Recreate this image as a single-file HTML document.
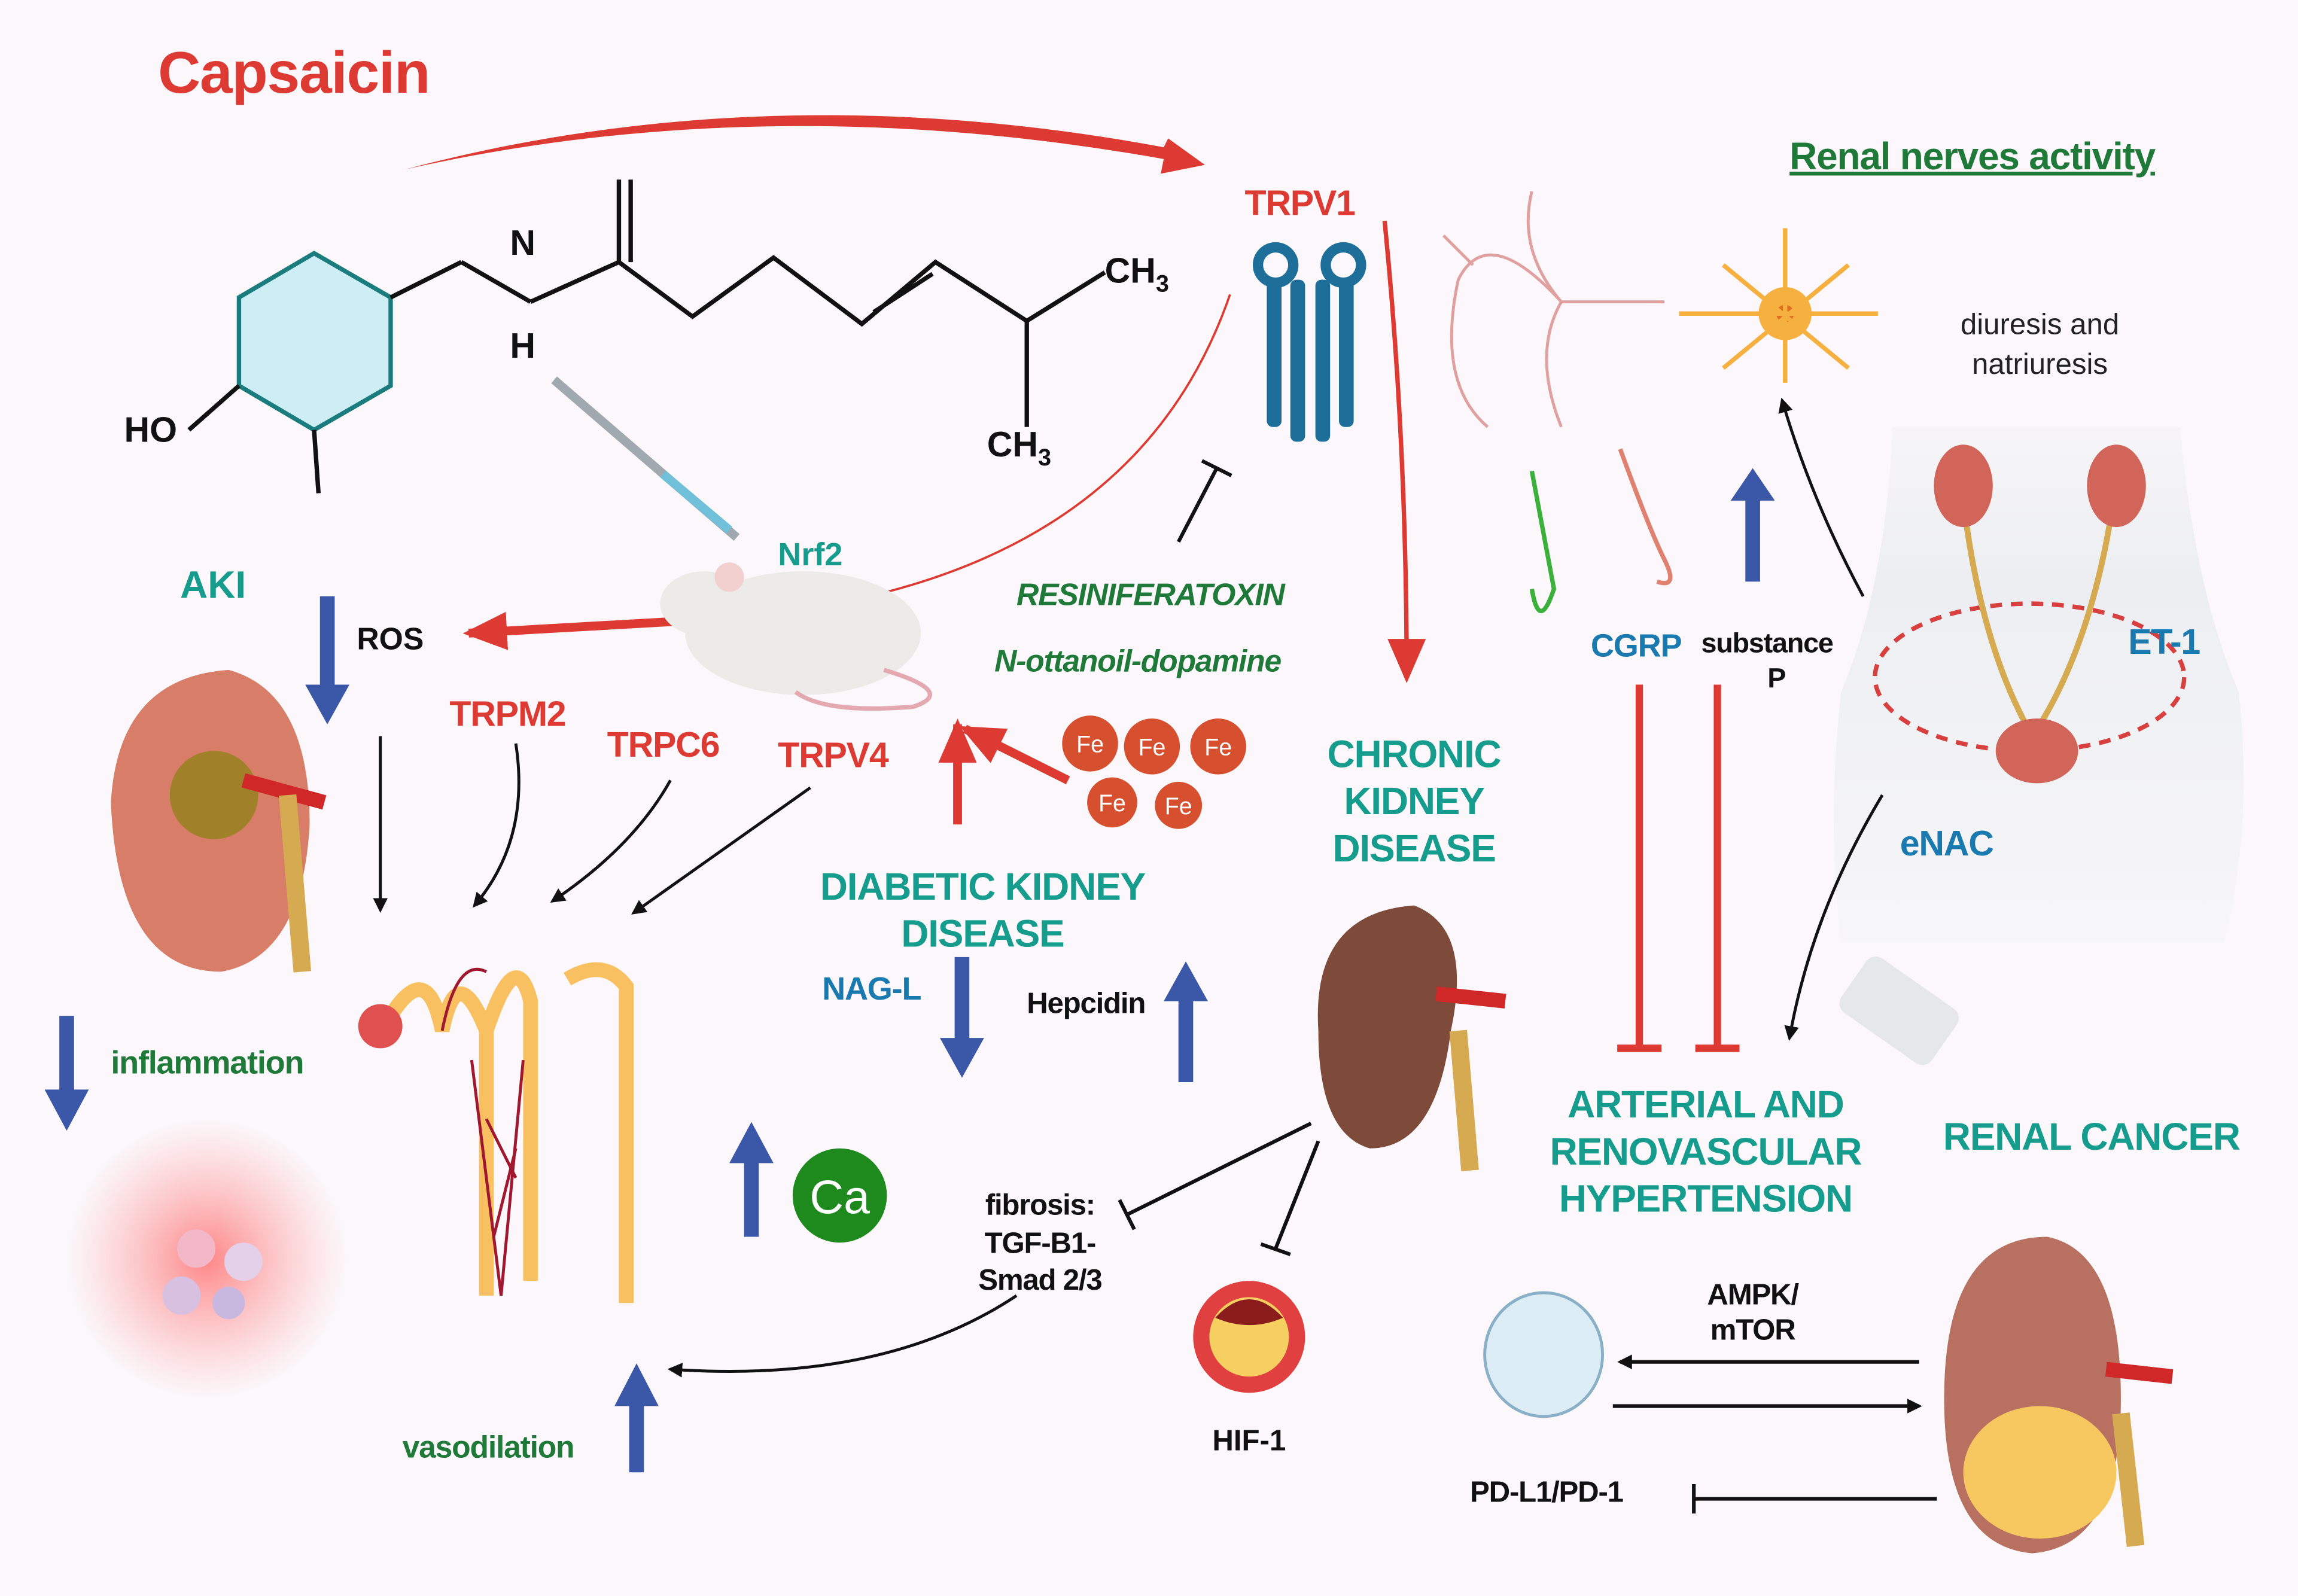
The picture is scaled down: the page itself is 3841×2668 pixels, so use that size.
<!DOCTYPE html>
<html><head><meta charset="utf-8"><style>
html,body{margin:0;padding:0;background:#fbf7fa}
svg{display:block}
text{font-family:"Liberation Sans",sans-serif;font-weight:bold}
.n{letter-spacing:-0.5px}
</style></head><body>
<svg width="3841" height="2668" viewBox="0 0 1560 1084" xmlns="http://www.w3.org/2000/svg">
<defs>
<marker id="ab" markerWidth="10" markerHeight="10" refX="8" refY="5" orient="auto" markerUnits="userSpaceOnUse"><path d="M0,0 L10,5 L0,10 z" fill="#111"/></marker>
<marker id="ar" markerWidth="30" markerHeight="26" refX="26" refY="13" orient="auto" markerUnits="userSpaceOnUse"><path d="M0,0 L30,13 L0,26 z" fill="#dc3a32"/></marker>
<radialGradient id="glow"><stop offset="0" stop-color="#ff6a6a" stop-opacity=".8"/><stop offset="1" stop-color="#ff9a9a" stop-opacity="0"/></radialGradient>
<linearGradient id="bg" x1="0" y1="0" x2="0" y2="1"><stop offset="0" stop-color="#f1f2f4" stop-opacity=".5"/><stop offset=".3" stop-color="#eceef1"/><stop offset="1" stop-color="#f3f4f6" stop-opacity=".6"/></linearGradient>
</defs>
<rect width="1560" height="1084" fill="#fbf7fa"/>
<path d="M1285,290 L1480,290 Q1490,400 1520,470 Q1530,560 1510,640 L1250,640 Q1240,560 1250,470 Q1280,400 1285,290z" fill="url(#bg)"/>

<text x="107" y="63" font-size="40" fill="#dc3a32" class="n">Capsaicin</text>
<path d="M275,115 Q520,50 790,100 L793,94 L818,112 L788,118 L790,108 Q520,60 275,115z" fill="#dc3a32"/>
<text x="845" y="146" font-size="24" fill="#dc3a32" class="n">TRPV1</text>
<text x="1215" y="115" font-size="26" fill="#1f7a3a" text-decoration="underline" class="n">Renal nerves activity</text>
<text font-size="20" fill="#222" text-anchor="middle" style="font-weight:normal"><tspan x="1385" y="227">diuresis and</tspan><tspan x="1385" y="254">natriuresis</tspan></text>

<g stroke="#111" stroke-width="3" fill="none">
<polygon points="213,172 265,202 265,262 213,292 162,262 162,202" fill="#cdeef4" stroke="#1a7c7c"/>
<line x1="265" y1="202" x2="313" y2="178"/><line x1="313" y1="178" x2="360" y2="205"/>
<line x1="360" y1="205" x2="420" y2="178"/><line x1="420" y1="178" x2="420" y2="122"/><line x1="428" y1="178" x2="428" y2="122"/>
<polyline points="420,178 470,215 525,175 585,220 635,178 697,218 750,185"/>
<line x1="593" y1="212" x2="633" y2="186"/>
<line x1="697" y1="218" x2="697" y2="290"/>
<line x1="162" y1="262" x2="128" y2="292"/><line x1="213" y1="292" x2="216" y2="335"/>
</g>
<text x="346" y="173" font-size="24" fill="#111">N</text>
<text x="346" y="243" font-size="24" fill="#111">H</text>
<text x="750" y="192" font-size="24" fill="#111">CH<tspan font-size="16" dy="6">3</tspan></text>
<text x="670" y="310" font-size="24" fill="#111">CH<tspan font-size="16" dy="6">3</tspan></text>
<text x="84" y="300" font-size="24" fill="#111">HO</text>

<line x1="376" y1="258" x2="500" y2="365" stroke="#a0a8b0" stroke-width="6"/>
<line x1="450" y1="322" x2="495" y2="360" stroke="#6fc0d8" stroke-width="6"/>

<g fill="#1d6f9a"><rect x="860" y="190" width="10" height="100" rx="4"/><rect x="876" y="190" width="10" height="110" rx="4"/><rect x="893" y="190" width="10" height="110" rx="4"/><rect x="909" y="190" width="10" height="100" rx="4"/>
<circle cx="866" cy="180" r="12" fill="none" stroke="#1d6f9a" stroke-width="7"/><circle cx="912" cy="180" r="12" fill="none" stroke="#1d6f9a" stroke-width="7"/></g>
<path d="M835,200 Q780,360 590,405" fill="none" stroke="#dc3a32" stroke-width="1.5"/>
<line x1="800" y1="368" x2="826" y2="318" stroke="#111" stroke-width="2.5"/><line x1="816" y1="313" x2="836" y2="323" stroke="#111" stroke-width="2.5"/>
<path d="M940,150 Q955,300 955,460" fill="none" stroke="#dc3a32" stroke-width="3" marker-end="url(#ar)"/>

<g stroke="#e0a0a0" stroke-width="2" fill="none">
<path d="M1130,205 L1060,205 Q1010,150 990,190 Q975,260 1010,290 M1060,205 Q1040,240 1060,290 M1060,205 Q1030,170 1040,130 M1000,180 L980,160"/></g>
<circle cx="1212" cy="213" r="18" fill="#f5b040"/><circle cx="1212" cy="213" r="6" fill="#e07020"/>
<g stroke="#f5b040" stroke-width="3"><line x1="1140" y1="213" x2="1275" y2="213"/><line x1="1212" y1="155" x2="1212" y2="260"/><line x1="1170" y1="180" x2="1255" y2="250"/><line x1="1255" y1="180" x2="1170" y2="250"/></g>
<path d="M1040,320 L1055,400 Q1045,430 1040,400" stroke="#3bb03b" stroke-width="3" fill="none"/>
<path d="M1100,305 Q1120,360 1130,380 Q1140,400 1125,395" stroke="#e08070" stroke-width="3" fill="none"/>
<path d="M1190,395 L1190,335" stroke="#3b57a8" stroke-width="10"/><polygon points="1175,340 1190,318 1205,340" fill="#3b57a8"/>
<path d="M1265,405 Q1230,340 1210,272" fill="none" stroke="#111" stroke-width="2" marker-end="url(#ab)"/>

<ellipse cx="1378" cy="460" rx="105" ry="50" fill="none" stroke="#d84040" stroke-width="3" stroke-dasharray="8,6"/>
<path d="M1333,340 Q1345,440 1380,500 M1435,340 Q1420,440 1380,500" stroke="#d6aa50" stroke-width="4" fill="none"/>
<ellipse cx="1333" cy="330" rx="20" ry="28" fill="#d2655a"/><ellipse cx="1437" cy="330" rx="20" ry="28" fill="#d2655a"/>
<ellipse cx="1383" cy="510" rx="28" ry="22" fill="#d2655a"/>
<text x="1445" y="444" font-size="24" fill="#1a7ab0" class="n">ET-1</text>
<text x="1290" y="581" font-size="24" fill="#1a7ab0" class="n">eNAC</text>
<path d="M1278,540 Q1230,620 1215,705" fill="none" stroke="#111" stroke-width="2" marker-end="url(#ab)"/>

<text x="1080" y="446" font-size="22" fill="#1a7ab0" class="n">CGRP</text>
<text x="1155" y="443" font-size="19" fill="#111" class="n">substance</text>
<text x="1200" y="467" font-size="19" fill="#111">P</text>
<g stroke="#dc3a32" stroke-width="5"><line x1="1113" y1="465" x2="1113" y2="712"/><line x1="1166" y1="465" x2="1166" y2="712"/><line x1="1098" y1="712" x2="1128" y2="712"/><line x1="1151" y1="712" x2="1181" y2="712"/></g>
<text font-size="26" fill="#159c8c" text-anchor="middle" class="n"><tspan x="1158" y="759">ARTERIAL AND</tspan><tspan x="1158" y="791">RENOVASCULAR</tspan><tspan x="1158" y="823">HYPERTENSION</tspan></text>
<text x="1420" y="781" font-size="26" fill="#159c8c" text-anchor="middle" class="n">RENAL CANCER</text>
<rect x="1250" y="665" width="75" height="45" rx="8" fill="#e5e7ea" transform="rotate(35 1290 690)"/>

<text x="122" y="406" font-size="26" fill="#159c8c">AKI</text>
<path d="M222,405 L222,470" stroke="#3b57a8" stroke-width="10"/><polygon points="207,465 222,492 237,465" fill="#3b57a8"/>
<text x="242" y="441" font-size="21" fill="#111">ROS</text>
<path d="M460,422 L318,430" stroke="#dc3a32" stroke-width="6" marker-end="url(#ar)"/>
<path d="M75,545 Q80,460 155,455 Q210,470 210,560 Q205,650 150,660 Q80,660 75,545z" fill="#d77d68"/>
<circle cx="145" cy="540" r="30" fill="#a08028"/>
<path d="M165,530 L220,545" stroke="#d02828" stroke-width="10"/><path d="M195,540 L205,660" stroke="#d6aa50" stroke-width="12"/>
<text x="305" y="493" font-size="24" fill="#dc3a32" class="n">TRPM2</text>
<text x="412" y="514" font-size="24" fill="#dc3a32" class="n">TRPC6</text>
<text x="528" y="521" font-size="24" fill="#dc3a32" class="n">TRPV4</text>
<g stroke="#111" stroke-width="2" fill="none">
<line x1="258" y1="500" x2="258" y2="618" marker-end="url(#ab)"/>
<path d="M350,505 Q360,570 322,615" marker-end="url(#ab)"/>
<path d="M455,530 Q430,575 375,612" marker-end="url(#ab)"/>
<path d="M550,535 L430,620" marker-end="url(#ab)"/>
</g>

<ellipse cx="545" cy="430" rx="80" ry="42" fill="#ecebe8"/><ellipse cx="478" cy="410" rx="30" ry="22" fill="#ecebe8"/>
<circle cx="495" cy="392" r="10" fill="#f2d0d0"/>
<path d="M600,455 Q650,470 620,480 Q560,485 540,470" fill="none" stroke="#e4a9b0" stroke-width="3"/>
<text x="528" y="384" font-size="22" fill="#159c8c">Nrf2</text>
<text x="690" y="411" font-size="21" fill="#1f7a3a" font-style="italic" class="n">RESINIFERATOXIN</text>
<text x="675" y="456" font-size="21" fill="#1f7a3a" font-style="italic" class="n">N-ottanoil-dopamine</text>

<g font-size="16" fill="#fff" text-anchor="middle">
<circle cx="740" cy="505" r="19" fill="#d65030"/><circle cx="782" cy="507" r="19" fill="#d65030"/><circle cx="827" cy="507" r="19" fill="#d65030"/><circle cx="755" cy="545" r="17" fill="#d65030"/><circle cx="800" cy="547" r="16" fill="#d65030"/>
<text x="740" y="511" style="font-weight:normal">Fe</text><text x="782" y="513" style="font-weight:normal">Fe</text><text x="827" y="513" style="font-weight:normal">Fe</text><text x="755" y="551" style="font-weight:normal">Fe</text><text x="800" y="553" style="font-weight:normal">Fe</text></g>
<path d="M725,530 L655,495" stroke="#dc3a32" stroke-width="6" marker-end="url(#ar)"/>
<path d="M650,560 L650,492" stroke="#dc3a32" stroke-width="6" marker-end="url(#ar)"/>

<text font-size="26" fill="#159c8c" text-anchor="middle" class="n"><tspan x="960" y="521">CHRONIC</tspan><tspan x="960" y="553">KIDNEY</tspan><tspan x="960" y="585">DISEASE</tspan></text>
<text font-size="26" fill="#159c8c" text-anchor="middle" class="n"><tspan x="667" y="611">DIABETIC KIDNEY</tspan><tspan x="667" y="643">DISEASE</tspan></text>
<text x="558" y="679" font-size="22" fill="#1a7ab0" class="n">NAG-L</text>
<path d="M653,650 L653,710" stroke="#3b57a8" stroke-width="10"/><polygon points="638,705 653,732 668,705" fill="#3b57a8"/>
<text x="697" y="688" font-size="20" fill="#111" class="n">Hepcidin</text>
<path d="M805,735 L805,675" stroke="#3b57a8" stroke-width="10"/><polygon points="790,680 805,653 820,680" fill="#3b57a8"/>

<path d="M895,700 Q890,620 960,615 Q1000,630 985,700 Q975,780 930,780 Q895,770 895,700z" fill="#7e4a3a"/>
<path d="M975,675 L1022,680" stroke="#d02828" stroke-width="10"/><path d="M990,700 L998,795" stroke="#d6aa50" stroke-width="12"/>
<line x1="890" y1="763" x2="765" y2="825" stroke="#111" stroke-width="2.5"/><line x1="760" y1="815" x2="770" y2="835" stroke="#111" stroke-width="2.5"/>
<line x1="895" y1="775" x2="866" y2="848" stroke="#111" stroke-width="2.5"/><line x1="856" y1="845" x2="876" y2="852" stroke="#111" stroke-width="2.5"/>
<text font-size="20" fill="#111" text-anchor="middle" class="n"><tspan x="706" y="825">fibrosis:</tspan><tspan x="706" y="851">TGF-B1-</tspan><tspan x="706" y="876">Smad 2/3</tspan></text>
<circle cx="848" cy="908" r="38" fill="#e04040"/><circle cx="848" cy="908" r="27" fill="#f5d060"/><path d="M825,895 Q848,870 871,895 Q848,905 825,895z" fill="#8a1c1c"/>
<text x="848" y="985" font-size="20" fill="#111" text-anchor="middle">HIF-1</text>
<path d="M690,880 Q600,940 455,930" fill="none" stroke="#111" stroke-width="2" marker-end="url(#ab)"/>

<g fill="none" stroke-width="10" stroke="#f8c060">
<path d="M265,690 Q290,650 300,700 Q310,650 330,700 Q350,640 360,680 L360,870 M385,665 Q410,650 425,670 L425,885 M330,700 L330,880"/></g>
<g fill="none" stroke="#a01830" stroke-width="2"><path d="M320,720 L340,880 L355,720 M330,760 L350,800 M335,840 L350,780 M300,700 Q310,650 330,660"/></g>
<circle cx="258" cy="697" r="15" fill="#e05050"/>
<text x="75" y="729" font-size="22" fill="#1f7a3a" class="n">inflammation</text>
<path d="M45,690 L45,745" stroke="#3b57a8" stroke-width="10"/><polygon points="30,740 45,768 60,740" fill="#3b57a8"/>
<circle cx="140" cy="855" r="95" fill="url(#glow)"/>
<circle cx="133" cy="848" r="13" fill="#f2b8c8"/><circle cx="165" cy="857" r="13" fill="#e4d0e8"/><circle cx="123" cy="880" r="13" fill="#d8c0e0"/><circle cx="155" cy="885" r="11" fill="#c8b8e0"/>
<path d="M510,840 L510,785" stroke="#3b57a8" stroke-width="10"/><polygon points="495,790 510,762 525,790" fill="#3b57a8"/>
<circle cx="570" cy="812" r="32" fill="#1e8a1e"/><text x="570" y="824" font-size="32" fill="#fff" text-anchor="middle" style="font-weight:normal">Ca</text>
<path d="M432,1000 L432,950" stroke="#3b57a8" stroke-width="10"/><polygon points="417,955 432,926 447,955" fill="#3b57a8"/>
<text x="273" y="990" font-size="21" fill="#1f7a3a" class="n">vasodilation</text>

<path d="M1320,950 Q1320,840 1390,840 Q1440,850 1440,950 Q1440,1050 1380,1055 Q1320,1050 1320,950z" fill="#b87060"/>
<ellipse cx="1385" cy="1000" rx="52" ry="45" fill="#f8c860"/>
<path d="M1430,930 L1475,935" stroke="#d02828" stroke-width="10"/><path d="M1440,960 L1450,1050" stroke="#d6aa50" stroke-width="12"/>
<ellipse cx="1048" cy="920" rx="40" ry="42" fill="#dcedf5" stroke="#8ab0c8" stroke-width="2"/>
<text font-size="20" fill="#111" text-anchor="middle" class="n"><tspan x="1190" y="886">AMPK/</tspan><tspan x="1190" y="910">mTOR</tspan></text>
<line x1="1303" y1="925" x2="1100" y2="925" stroke="#111" stroke-width="2.5" marker-end="url(#ab)"/>
<line x1="1095" y1="955" x2="1303" y2="955" stroke="#111" stroke-width="2.5" marker-end="url(#ab)"/>
<text x="998" y="1020" font-size="20" fill="#111" class="n">PD-L1/PD-1</text>
<line x1="1150" y1="1018" x2="1315" y2="1018" stroke="#111" stroke-width="2.5"/><line x1="1150" y1="1008" x2="1150" y2="1028" stroke="#111" stroke-width="2.5"/>
</svg>
</body></html>
